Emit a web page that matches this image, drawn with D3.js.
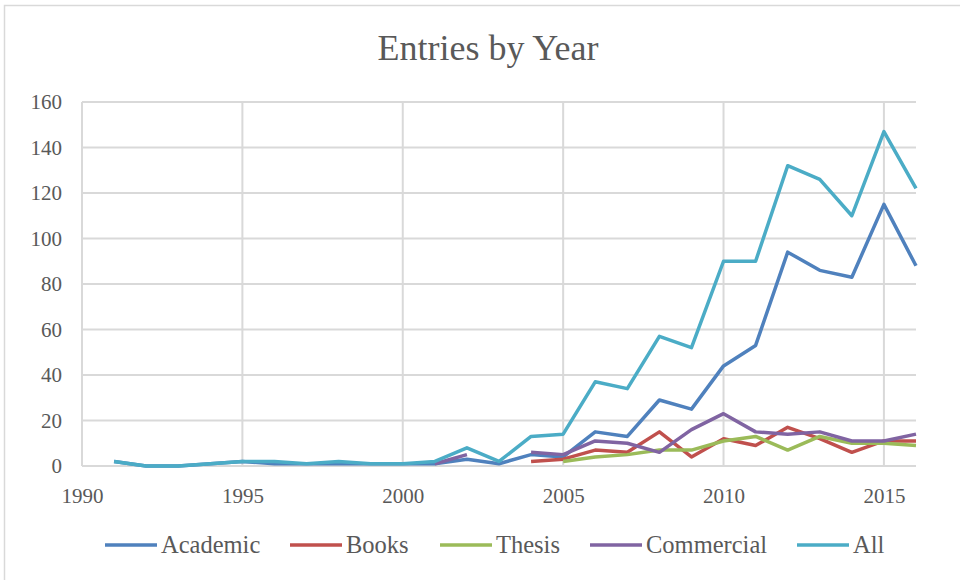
<!DOCTYPE html>
<html>
<head>
<meta charset="utf-8">
<script src="https://cdn.jsdelivr.net/npm/d3@7"></script>
<style>
  html, body { margin: 0; padding: 0; background: #fff; }
  svg { display: block; }
  text { font-family: "Liberation Serif", "Times New Roman", serif; fill: #595959; }
</style>
</head>
<body>
<svg id="chart" width="960" height="580"></svg>
<script>
// Entries per year, by category (null = no entries recorded)
const years = d3.range(1991, 2017);
const academic   = [2, 0, 0, 1, 2, 1, 1, 1, 1, 1, 1, 3, 1, 5, 4, 15, 13, 29, 25, 44, 53, 94, 86, 83, 115, 88];
const books      = [null, null, null, null, null, null, null, null, null, null, null, null, null, 2, 3, 7, 6, 15, 4, 12, 9, 17, 12, 6, 11, 11];
const thesis     = [null, null, null, null, null, null, null, null, null, null, null, null, null, null, 2, 4, 5, 7, 7, 11, 13, 7, 13, 10, 10, 9];
const commercial = [null, null, null, null, null, null, null, null, null, null, 1, 5, null, 6, 5, 11, 10, 6, 16, 23, 15, 14, 15, 11, 11, 14];
const all        = [2, 0, 0, 1, 2, 2, 1, 2, 1, 1, 2, 8, 2, 13, 14, 37, 34, 57, 52, 90, 90, 132, 126, 110, 147, 122];

const xTicks = [1990, 1995, 2000, 2005, 2010, 2015];
const yTicks = [0, 20, 40, 60, 80, 100, 120, 140, 160];

const seriesNames = ["Academic", "Books", "Thesis", "Commercial", "All"];
const seriesValues = [academic, books, thesis, commercial, all];
const seriesColors = ["#4F81BD", "#C0504D", "#9BBB59", "#8064A2", "#4BACC6"];

const svg = d3.select("#chart");

// outer chart frame
svg.append("rect")
  .attr("x", 4.5).attr("y", 5.5)
  .attr("width", 1000).attr("height", 1000)
  .attr("fill", "#fff")
  .attr("stroke", "#d9d9d9").attr("stroke-width", 1.5);

const plotLeft = 82, plotRight = 916, plotTop = 102, plotBottom = 466;

const x = d3.scaleLinear().domain([1990, 2016]).range([plotLeft, plotRight]);
const y = d3.scaleLinear().domain([0, 160]).range([plotBottom, plotTop]);

// title
svg.append("text")
  .attr("x", 488).attr("y", 60)
  .attr("text-anchor", "middle")
  .attr("font-size", 36)
  .text("Entries by Year");

// horizontal gridlines
svg.append("g")
  .selectAll("line")
  .data(yTicks)
  .join("line")
  .attr("x1", plotLeft).attr("x2", plotRight)
  .attr("y1", d => y(d)).attr("y2", d => y(d))
  .attr("stroke", "#d9d9d9").attr("stroke-width", 2);

// vertical gridlines
svg.append("g")
  .selectAll("line")
  .data(xTicks)
  .join("line")
  .attr("x1", d => x(d)).attr("x2", d => x(d))
  .attr("y1", plotTop).attr("y2", plotBottom)
  .attr("stroke", "#d9d9d9").attr("stroke-width", 2);

// y axis labels
const yAxis = d3.axisLeft(y).tickValues(yTicks).tickSize(0).tickPadding(20);
const gy = svg.append("g").attr("transform", `translate(${plotLeft},0)`).call(yAxis);
gy.select(".domain").remove();
gy.selectAll("text")
  .attr("font-family", "Liberation Serif, Times New Roman, serif")
  .attr("font-size", 21)
  .attr("fill", "#595959");

// x axis labels
const xAxis = d3.axisBottom(x).tickValues(xTicks).tickFormat(d3.format("d")).tickSize(0).tickPadding(22);
const gx = svg.append("g").attr("transform", `translate(0,${plotBottom})`).call(xAxis);
gx.select(".domain").remove();
gx.selectAll("text")
  .attr("font-family", "Liberation Serif, Times New Roman, serif")
  .attr("font-size", 21)
  .attr("fill", "#595959");

// series lines
const line = d3.line()
  .defined(d => d.v !== null)
  .x(d => x(d.year))
  .y(d => y(d.v));

const series = seriesNames.map((name, i) => ({
  name,
  color: seriesColors[i],
  points: years.map((yr, j) => ({ year: yr, v: seriesValues[i][j] }))
}));

svg.append("g")
  .selectAll("path")
  .data(series)
  .join("path")
  .attr("d", d => line(d.points))
  .attr("fill", "none")
  .attr("stroke", d => d.color)
  .attr("stroke-width", 3.5)
  .attr("stroke-linejoin", "round");

// legend: swatch line followed by its label
const legendY = 545;
const legendStarts = [105, 290, 440, 590, 797];
const legend = svg.append("g");
series.forEach((s, i) => {
  const lx = legendStarts[i];
  legend.append("line")
    .attr("x1", lx).attr("x2", lx + 52)
    .attr("y1", legendY).attr("y2", legendY)
    .attr("stroke", s.color).attr("stroke-width", 3.5);
  legend.append("text")
    .attr("x", lx + 56).attr("y", legendY + 8)
    .attr("font-size", 24.5)
    .text(s.name);
});
</script>
</body>
</html>
